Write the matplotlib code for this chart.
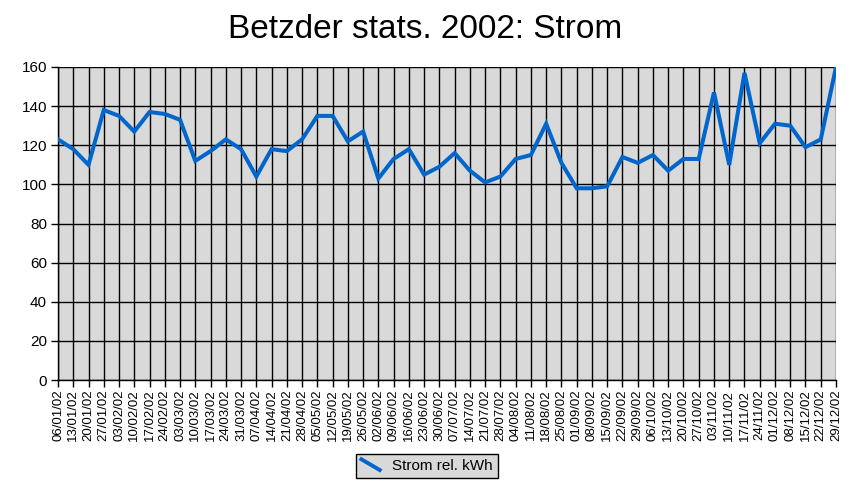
import matplotlib
matplotlib.use("Agg")
import matplotlib.pyplot as plt
from matplotlib.legend_handler import HandlerBase
from matplotlib.lines import Line2D

# weekly dates and values
dates = ["06/01/02", "13/01/02", "20/01/02", "27/01/02", "03/02/02", "10/02/02",
         "17/02/02", "24/02/02", "03/03/02", "10/03/02", "17/03/02", "24/03/02",
         "31/03/02", "07/04/02", "14/04/02", "21/04/02", "28/04/02", "05/05/02",
         "12/05/02", "19/05/02", "26/05/02", "02/06/02", "09/06/02", "16/06/02",
         "23/06/02", "30/06/02", "07/07/02", "14/07/02", "21/07/02", "28/07/02",
         "04/08/02", "11/08/02", "18/08/02", "25/08/02", "01/09/02", "08/09/02",
         "15/09/02", "22/09/02", "29/09/02", "06/10/02", "13/10/02", "20/10/02",
         "27/10/02", "03/11/02", "10/11/02", "17/11/02", "24/11/02", "01/12/02",
         "08/12/02", "15/12/02", "22/12/02", "29/12/02"]
strom = [123, 118, 110, 138, 135, 127, 137, 136, 133, 112, 117, 123,
         118, 104, 118, 117, 123, 135, 135, 122, 127, 103, 113, 118,
         105, 109, 116, 107, 101, 104, 113, 115, 131, 111, 98, 98,
         99, 114, 111, 115, 107, 113, 113, 147, 110, 157, 121, 131,
         130, 119, 123, 160]

LINE_COLOR = '#0066cc'
FILL = '#d9d9d9'

plt.rcParams['font.family'] = ['Liberation Sans', 'DejaVu Sans']


class DiagHandler(HandlerBase):
    def create_artists(self, legend, orig_handle, xdescent, ydescent,
                       width, height, fontsize, trans):
        ln = Line2D([-xdescent, -xdescent + width * 0.75],
                    [height - ydescent, -ydescent],
                    color=LINE_COLOR, linewidth=2.8, transform=trans)
        return [ln]


fig = plt.figure(figsize=(8.5, 4.88), dpi=100)
ax = fig.add_axes([58 / 850, 1 - 380 / 488, (836 - 58) / 850, (380 - 67) / 488])
ax.set_facecolor(FILL)

x = list(range(len(dates)))
line, = ax.plot(x, strom, color=LINE_COLOR, linewidth=2.9, label='Strom rel. kWh',
                solid_joinstyle='miter', zorder=3)

ax.set_xlim(0, len(dates) - 1)
ax.set_ylim(0, 160)
ax.set_yticks(range(0, 161, 20))
ax.set_xticks(x)
ax.set_xticklabels(dates, rotation=90, fontsize=9.5)
ax.tick_params(axis='y', labelsize=11, length=5, width=1, direction='out', pad=3)
ax.tick_params(axis='x', length=5, width=1, direction='out', pad=2)
ax.grid(True, color='black', linewidth=1)
ax.set_axisbelow(True)
for s in ['top', 'right', 'bottom', 'left']:
    ax.spines[s].set_visible(False)
ax.spines['left'].set_visible(True)
ax.spines['bottom'].set_visible(True)
ax.spines['left'].set_linewidth(1)
ax.spines['bottom'].set_linewidth(1)

fig.text(425 / 850, 1 - 30 / 488, 'Betzder stats. 2002: Strom', fontsize=24,
         ha='center', va='center')

leg = fig.legend(handles=[line], loc='center', bbox_to_anchor=(427 / 850, 1 - 466 / 488),
                 handler_map={Line2D: DiagHandler()}, fontsize=11, frameon=True,
                 fancybox=False, edgecolor='black', facecolor=FILL, framealpha=1,
                 handlelength=1.6, handletextpad=0.4, borderpad=0.35)
leg.get_frame().set_linewidth(1)

fig.savefig('out.png', dpi=100, facecolor='white')
